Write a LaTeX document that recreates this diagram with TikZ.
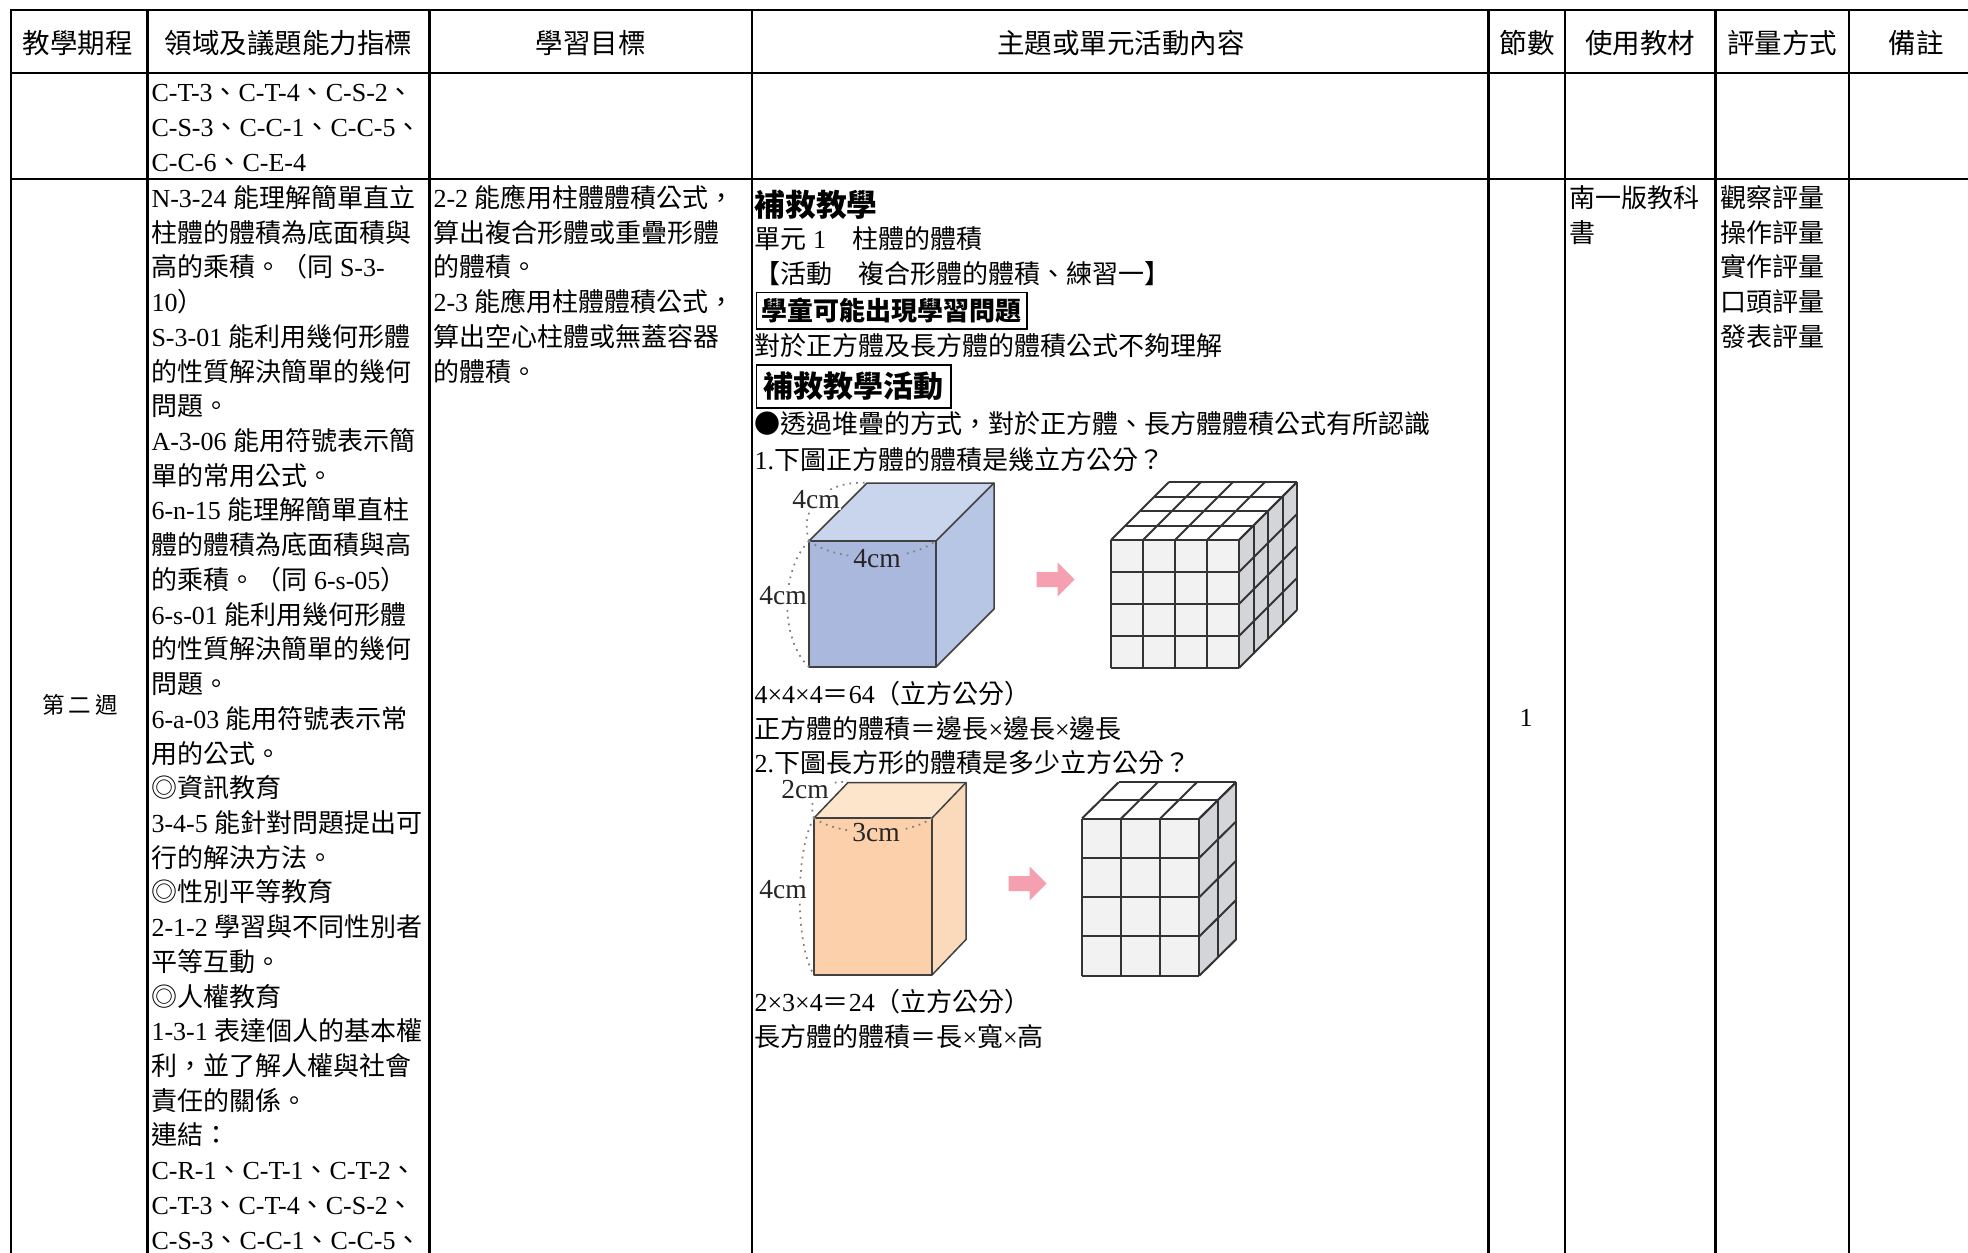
\documentclass[tikz,border=0pt]{standalone}
\usepackage{xcolor}
\usepackage{fontspec}
\usepackage{tikz}
\usetikzlibrary{shapes,arrows,positioning}

\setmainfont{Liberation Serif}
\newfontfamily\cjkfont{Noto Sans CJK TC}

% switch to the CJK font for CJK characters
\XeTeXinterchartokenstate=1
\newXeTeXintercharclass\cjkclass
\newcount\cjkcode
\def\setcjkrange#1#2{\cjkcode=#1\relax\loop\XeTeXcharclass\cjkcode=\cjkclass\advance\cjkcode by 1\relax\ifnum\cjkcode<#2\repeat}
\setcjkrange{"3000}{"3040}
\setcjkrange{"4E00}{"A000}
\setcjkrange{"FF00}{"FFF0}
\setcjkrange{"25A0}{"2600}
\XeTeXinterchartoks 0 \cjkclass = {\cjkfont}
\XeTeXinterchartoks 4095 \cjkclass = {\cjkfont}
\XeTeXinterchartoks \cjkclass 0 = {\rmfamily}
\XeTeXinterchartoks \cjkclass 4095 = {\rmfamily}

\definecolor{cubefront}{RGB}{170,184,221}
\definecolor{cubetop}{RGB}{200,213,236}
\definecolor{cubeside}{RGB}{184,198,230}
\definecolor{boxfront}{RGB}{252,208,170}
\definecolor{boxtop}{RGB}{253,229,204}
\definecolor{boxside}{RGB}{251,218,188}
\definecolor{unitface}{RGB}{242,242,242}
\definecolor{unitside}{RGB}{212,213,216}
\definecolor{arrowpink}{RGB}{244,160,176}

\begin{document}
\begin{tikzpicture}[x=0.4pt,y=-0.4pt]

\tikzstyle{rule} = [line width=1.1pt, line cap=rect]
\tikzstyle{head} = [anchor=base, inner sep=0pt, font=\fontsize{11}{13}\selectfont]
\tikzstyle{cell} = [anchor=base west, inner sep=0pt, font=\fontsize{10.4}{12}\selectfont]
\tikzstyle{title} = [anchor=base west, inner sep=0pt, font=\fontsize{12.3}{14}\selectfont\bfseries]
\tikzstyle{tag} = [draw, line width=0.7pt, anchor=north west, inner sep=0pt, align=center]
\tikzstyle{dim} = [inner sep=0.5pt, text=black!85, font=\fontsize{11}{13}\selectfont]
\tikzstyle{guide} = [dotted, line width=0.7pt, black!50]
\tikzstyle{edge} = [line width=0.6pt, black!75, line join=round]
\tikzstyle{unit} = [line width=0.8pt, black!80]
\tikzstyle{pointer} = [single arrow, fill=arrowpink, draw=none, anchor=tail, inner xsep=0pt, inner ysep=2.8pt, minimum height=15.2pt, single arrow head extend=3.8pt]

\useasboundingbox (0,0) rectangle (1968,1253);

% table rules
\foreach \y in {10,73,179}
  \draw[rule] (11,\y) -- (1968,\y);
\foreach \x in {11,147.5,429.5,752,1488.5,1565,1715.5,1849}
  \draw[rule] (\x,10) -- (\x,1253);

% header row
\node (hweek) [head] at (78,53) {教學期程};
\node (hind) [head] at (288.5,53) {領域及議題能力指標};
\node (hgoal) [head] at (590.5,53) {學習目標};
\node (hact) [head] at (1121,53) {主題或單元活動內容};
\node (hnum) [head] at (1527,53) {節數};
\node (hbook) [head] at (1640,53) {使用教材};
\node (heval) [head] at (1782,53) {評量方式};
\node (hnote) [head] at (1916,53) {備註};

% second row
\foreach \itm [count=\k from 0] in {{C-T-3、C-T-4、C-S-2、},{C-S-3、C-C-1、C-C-5、},{C-C-6、C-E-4}}
  \node (link\k) [cell] at (151,{101.5+35*\k}) {\itm};

% week
\node (week) [anchor=base, inner sep=0pt, font=\fontsize{9}{11}\selectfont] at (80,713.5) {第\hspace{1.6pt}二\hspace{1.6pt}週};
\node (periods) [cell, anchor=base] at (1526,726.5) {1};

% indicators
\foreach \itm [count=\k from 0] in {{N-3-24 能理解簡單直立},{柱體的體積為底面積與},{高的乘積。（同 S-3-},{10）},
  {S-3-01 能利用幾何形體},{的性質解決簡單的幾何},{問題。},{A-3-06 能用符號表示簡},{單的常用公式。},
  {6-n-15 能理解簡單直柱},{體的體積為底面積與高},{的乘積。（同 6-s-05）},{6-s-01 能利用幾何形體},
  {的性質解決簡單的幾何},{問題。},{6-a-03 能用符號表示常},{用的公式。},{◎資訊教育},
  {3-4-5 能針對問題提出可},{行的解決方法。},{◎性別平等教育},{2-1-2 學習與不同性別者},{平等互動。},
  {◎人權教育},{1-3-1 表達個人的基本權},{利，並了解人權與社會},{責任的關係。},{連結：},
  {C-R-1、C-T-1、C-T-2、},{C-T-3、C-T-4、C-S-2、},{C-S-3、C-C-1、C-C-5、}}
  \node (ind\k) [cell] at (151,{207.5+34.72*\k}) {\itm};

% goals
\foreach \itm [count=\k from 0] in {{2-2 能應用柱體體積公式，},{算出複合形體或重疊形體},{的體積。},
  {2-3 能應用柱體體積公式，},{算出空心柱體或無蓋容器},{的體積。}}
  \node (goal\k) [cell] at (433,{207.5+34.72*\k}) {\itm};

% materials and assessment
\node (book0) [cell] at (1569,207.5) {南一版教科};
\node (book1) [cell] at (1569,242.2) {書};
\foreach \itm [count=\k from 0] in {觀察評量,操作評量,實作評量,口頭評量,發表評量}
  \node (eval\k) [cell] at (1720,{207.5+34.72*\k}) {\itm};

% activity text
\node (remedy) [title] at (754,216) {補救教學};
\node (unit) [cell] at (754,248) {單元 1　柱體的體積};
\node (activity) [cell] at (754,283) {【活動　複合形體的體積、練習一】};
\node (problem) [tag, minimum width=108.2pt, minimum height=14.6pt, font=\fontsize{10.4}{12}\selectfont\bfseries] at (755.5,291.7) {學童可能出現學習問題};
\node (issue) [cell] at (754,355) {對於正方體及長方體的體積公式不夠理解};
\node (plan) [tag, minimum width=77.8pt, minimum height=17.3pt, font=\fontsize{12}{14}\selectfont\bfseries] at (755.5,364) {補救教學活動};
\node (stack) [cell] at (754,433) {●透過堆疊的方式，對於正方體、長方體體積公式有所認識};
\node (q1) [cell] at (754,469) {1.下圖正方體的體積是幾立方公分？};
\node (a1) [cell] at (754,703) {4×4×4＝64（立方公分）};
\node (f1) [cell] at (754,738) {正方體的體積＝邊長×邊長×邊長};
\node (q2) [cell] at (754,772) {2.下圖長方形的體積是多少立方公分？};
\node (a2) [cell] at (754,1011) {2×3×4＝24（立方公分）};
\node (f2) [cell] at (754,1046) {長方體的體積＝長×寬×高};

% cube 4cm
\fill[cubefront] (809,541) rectangle (936,667);
\fill[cubetop] (809,541) -- (867,483) -- (994,483) -- (936,541) -- cycle;
\fill[cubeside] (936,541) -- (994,483) -- (994,609) -- (936,667) -- cycle;
\draw[edge] (809,541) rectangle (936,667);
\draw[edge] (809,541) -- (867,483) -- (994,483) -- (994,609) -- (936,667);
\draw[edge] (936,541) -- (994,483);
\draw[guide] (809,541) .. controls (798,505) and (828,480) .. (867,483);
\draw[guide] (809,541) .. controls (780,570) and (780,640) .. (809,667);
\draw[guide] (809,541) .. controls (840,563) and (905,563) .. (936,541);
\node (c1depth) [dim, fill=white] at (816,500) {4cm};
\node (c1width) [dim, fill=cubefront] at (877,559) {4cm};
\node (c1height) [dim, fill=white] at (783,596) {4cm};

\node (go1) [pointer] at (1036,579.5) {};

% cube built from 4x4x4 unit cubes
\fill[unitface] (1111,540) rectangle (1239,668);
\fill[white] (1111,540) -- (1169,482) -- (1297,482) -- (1239,540) -- cycle;
\fill[unitside] (1239,540) -- (1297,482) -- (1297,610) -- (1239,668) -- cycle;
\foreach \i in {0,...,4} {
  \draw[unit] (1111+32*\i,540) -- ++(0,128);
  \draw[unit] (1111,540+32*\i) -- ++(128,0);
  \draw[unit] (1111+32*\i,540) -- ++(58,-58);
  \draw[unit] (1111+14.5*\i,540-14.5*\i) -- ++(128,0);
  \draw[unit] (1239+14.5*\i,540-14.5*\i) -- ++(0,128);
  \draw[unit] (1239,540+32*\i) -- ++(58,-58);
}

% cuboid 3cm x 2cm x 4cm
\fill[boxfront] (814,818) rectangle (932,975);
\fill[boxtop] (814,818) -- (848,782.5) -- (966,782.5) -- (932,818) -- cycle;
\fill[boxside] (932,818) -- (966,782.5) -- (966,939.5) -- (932,975) -- cycle;
\draw[edge] (814,818) rectangle (932,975);
\draw[edge] (814,818) -- (848,782.5) -- (966,782.5) -- (966,939.5) -- (932,975);
\draw[edge] (932,818) -- (966,782.5);
\draw[guide] (814,818) .. controls (806,795) and (825,779) .. (848,782.5);
\draw[guide] (814,818) .. controls (795,850) and (795,945) .. (814,975);
\draw[guide] (814,818) .. controls (840,837) and (906,837) .. (932,818);
\node (c2depth) [dim, fill=white] at (805,790) {2cm};
\node (c2width) [dim, fill=boxfront] at (876,833) {3cm};
\node (c2height) [dim, fill=white] at (783,890) {4cm};

\node (go2) [pointer] at (1008,883.5) {};

% cuboid built from 3x2x4 unit cubes
\fill[unitface] (1082,818.5) rectangle (1199.3,975.7);
\fill[white] (1082,818.5) -- (1118.6,782.3) -- (1235.9,782.3) -- (1199.3,818.5) -- cycle;
\fill[unitside] (1199.3,818.5) -- (1235.9,782.3) -- (1235.9,939.5) -- (1199.3,975.7) -- cycle;
\foreach \i in {0,...,3} {
  \draw[unit] (1082+39.1*\i,818.5) -- ++(0,157.2);
  \draw[unit] (1082+39.1*\i,818.5) -- ++(36.6,-36.2);
}
\foreach \j in {0,...,4} {
  \draw[unit] (1082,818.5+39.3*\j) -- ++(117.3,0);
  \draw[unit] (1199.3,818.5+39.3*\j) -- ++(36.6,-36.2);
}
\foreach \k in {0,1,2} {
  \draw[unit] (1082+18.3*\k,818.5-18.1*\k) -- ++(117.3,0);
  \draw[unit] (1199.3+18.3*\k,818.5-18.1*\k) -- ++(0,157.2);
}

\end{tikzpicture}
\end{document}
